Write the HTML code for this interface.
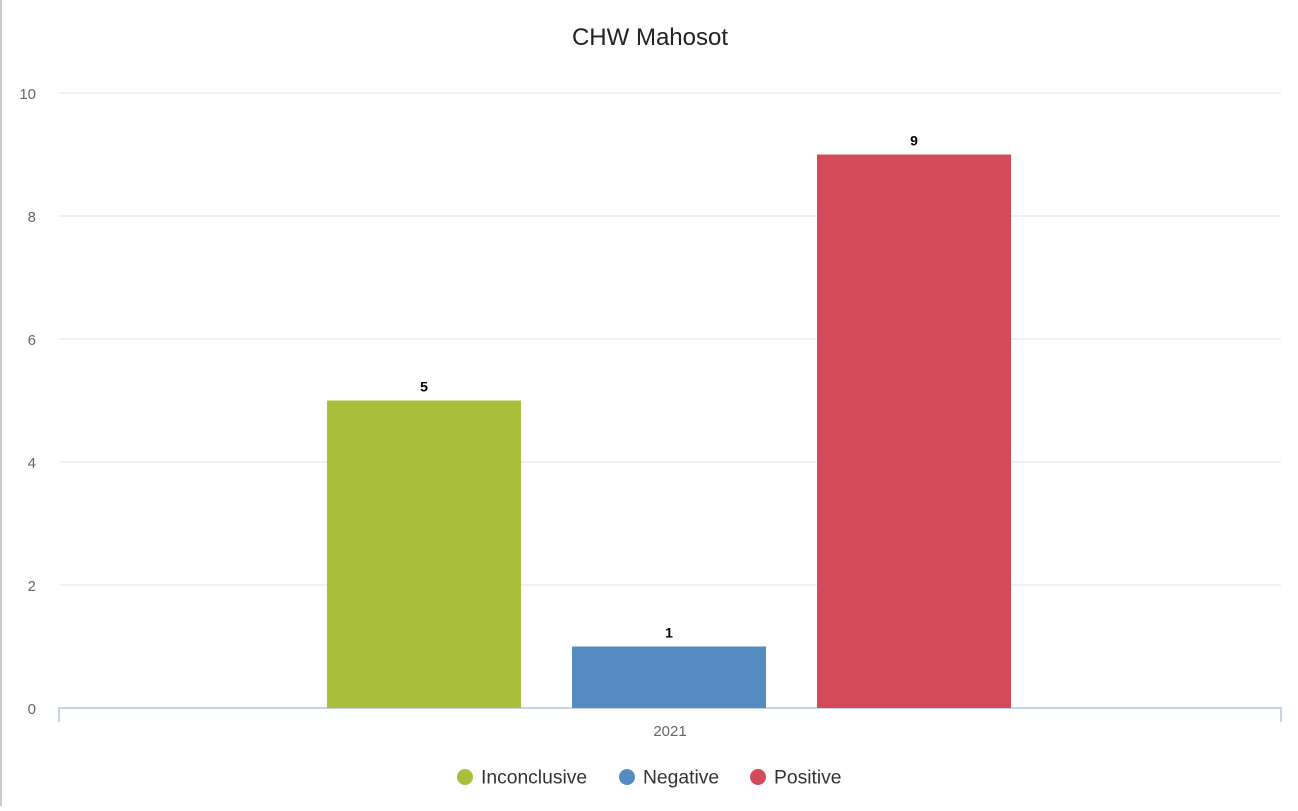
<!DOCTYPE html>
<html><head><meta charset="utf-8"><style>
body{margin:0;background:#fff;width:1298px;height:806px;overflow:hidden;font-family:"Liberation Sans",Arial,sans-serif;}
</style></head><body>
<svg id="chart" width="1298" height="806" xmlns="http://www.w3.org/2000/svg">
<rect x="0" y="0" width="2" height="806" fill="#cccccc"/>
<text x="650" y="45" text-anchor="middle" font-size="24" fill="#222">CHW Mahosot</text>
<g id="grid"></g><g id="bars"></g><g id="legend"></g>
</svg>
<script>
const categories=["2021"];
const seriesNames=["Inconclusive","Negative","Positive"];
const seriesColors=["#a9bf3c","#548bc0","#d44a59"];
const seriesValues=[5,1,9];
const yTicks=[0,2,4,6,8,10];
const NS="http://www.w3.org/2000/svg";
const x0=59,x1=1281,yBase=708,yTop=93,yMax=10;
const yScale=v=>yBase-(v/yMax)*(yBase-yTop);
function mk(t,a,p){const e=document.createElementNS(NS,t);for(const k in a)e.setAttribute(k,a[k]);p.appendChild(e);return e;}
const grid=document.getElementById('grid');
yTicks.forEach(v=>{
  const y=yScale(v);
  if(v>0){const l=mk('line',{x1:x0,x2:x1,y1:y,y2:y,stroke:'#e0e3ea','stroke-width':1},grid);
  
  }
  const t=mk('text',{x:36,y:y+6,'text-anchor':'end','font-size':15,fill:'#666'},grid);
  t.textContent=v;
  
  
});
const ax=mk('path',{d:`M${x0} 722V${yBase}H${x1}V722`,stroke:'#c8d4e8','stroke-width':2,fill:'none'},grid);


const xl=mk('text',{x:(x0+x1)/2,y:736,'text-anchor':'middle','font-size':15,fill:'#666'},grid);
xl.textContent=categories[0];


const bars=document.getElementById('bars');
const bw=194,gap=51,groupW=3*bw+2*gap,gx=(x0+x1)/2-groupW/2-1;
seriesValues.forEach((v,i)=>{
  const x=gx+i*(bw+gap),y=yScale(v);
  const r=mk('rect',{x:x,y:y,width:bw,height:yBase-y,fill:seriesColors[i]},bars);
  
  
  const t=mk('text',{x:x+bw/2,y:y-9,'text-anchor':'middle','font-size':14,'font-weight':'bold',fill:'#000'},bars);
  t.textContent=v;
  
  
});
const legend=document.getElementById('legend');
const lx=[465,627,758];
seriesNames.forEach((n,i)=>{
  const c=mk('circle',{cx:lx[i],cy:777,r:8,fill:seriesColors[i]},legend);
  
  
  const t=mk('text',{x:lx[i]+16,y:783.5,'font-size':19.3,fill:'#333'},legend);
  t.textContent=n;
  
  
});
</script>
</body></html>
